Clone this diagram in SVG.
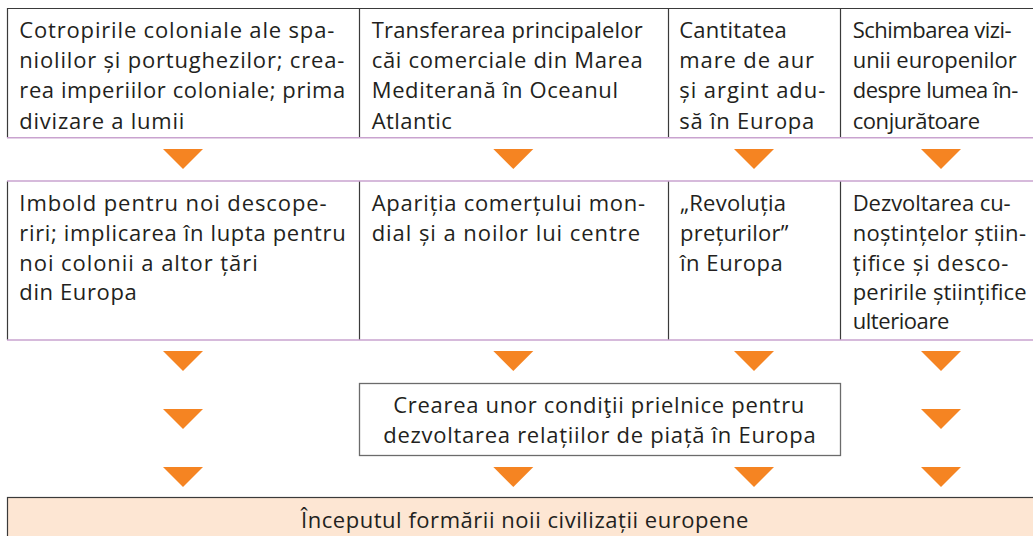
<svg xmlns="http://www.w3.org/2000/svg" xmlns:xlink="http://www.w3.org/1999/xlink" width="1033" height="536" viewBox="0 0 1033 536">
<style>
text{font-family:"Open Sans","Noto Sans","DejaVu Sans",sans-serif;font-size:22px;fill:#231f20}
.dark{stroke:#3a3a3a;stroke-width:1.2;fill:none}
.lav{stroke:#c9a3cf;stroke-width:1.5;fill:none}
.tri{fill:#f58422}
</style>
<defs>
<path id="tri" class="tri" d="M-20,0 L20,0 L0,20 Z"/>
</defs>
<rect width="1033" height="536" fill="#ffffff"/>

<g id="grid">
<line class="dark" x1="7.5" y1="8.5" x2="1033" y2="8.5"/>
<line class="dark" x1="7.5" y1="8" x2="7.5" y2="137.5"/>
<line class="dark" x1="359.5" y1="8" x2="359.5" y2="137.5"/>
<line class="dark" x1="668.5" y1="8" x2="668.5" y2="137.5"/>
<line class="dark" x1="840.5" y1="8" x2="840.5" y2="137.5"/>
<line class="lav" x1="7" y1="137.8" x2="1033" y2="137.8"/>
<line class="dark" x1="7.5" y1="181" x2="7.5" y2="340"/>
<line class="dark" x1="359.5" y1="181" x2="359.5" y2="340"/>
<line class="dark" x1="668.5" y1="181" x2="668.5" y2="340"/>
<line class="dark" x1="840.5" y1="181" x2="840.5" y2="340"/>
<line class="lav" x1="7" y1="181" x2="1033" y2="181"/>
<line class="lav" x1="7" y1="340" x2="1033" y2="340"/>
</g>

<g id="n1">
<text x="19.3" y="37.5" textLength="315" lengthAdjust="spacing">Cotropirile coloniale ale spa-</text>
<text x="19.3" y="68" textLength="325" lengthAdjust="spacing">niolilor și portughezilor; crea-</text>
<text x="19.3" y="98.3" textLength="326" lengthAdjust="spacing">rea imperiilor coloniale; prima</text>
<text x="19.3" y="128.5" textLength="165" lengthAdjust="spacing">divizare a lumii</text>
</g>
<g id="n2">
<text x="371.7" y="37.5" textLength="271" lengthAdjust="spacing">Transferarea principalelor</text>
<text x="371.7" y="68" textLength="271" lengthAdjust="spacing">căi comerciale din Marea</text>
<text x="371.7" y="98.3" textLength="246.3" lengthAdjust="spacing">Mediterană în Oceanul</text>
<text x="371.7" y="128.5" textLength="80" lengthAdjust="spacing">Atlantic</text>
</g>
<g id="n3">
<text x="679.3" y="37.5" textLength="107.4" lengthAdjust="spacing">Cantitatea</text>
<text x="679.3" y="68" textLength="134.7" lengthAdjust="spacing">mare de aur</text>
<text x="679.3" y="98.3" textLength="146" lengthAdjust="spacing">și argint adu-</text>
<text x="679.3" y="128.5" textLength="135" lengthAdjust="spacing">să în Europa</text>
</g>
<g id="n4">
<text x="852.7" y="37.5" textLength="159" lengthAdjust="spacing">Schimbarea vizi-</text>
<text x="852.7" y="68" textLength="164" lengthAdjust="spacing">unii europenilor</text>
<text x="852.7" y="98.3" textLength="165.6" lengthAdjust="spacing">despre lumea în-</text>
<text x="852.7" y="128.5" textLength="127.3" lengthAdjust="spacing">conjurătoare</text>
</g>

<g id="n5">
<text x="19.3" y="210.5" textLength="307.4" lengthAdjust="spacing">Imbold pentru noi descope-</text>
<text x="19.3" y="240.7" textLength="326.4" lengthAdjust="spacing">riri; implicarea în lupta pentru</text>
<text x="19.3" y="270.5" textLength="238.4" lengthAdjust="spacing">noi colonii a altor țări</text>
<text x="19.3" y="300" textLength="117.4" lengthAdjust="spacing">din Europa</text>
</g>
<g id="n6">
<text x="371.7" y="210.5" textLength="273.3" lengthAdjust="spacing">Apariția comerțului mon-</text>
<text x="371.7" y="240.7" textLength="268.3" lengthAdjust="spacing">dial și a noilor lui centre</text>
</g>
<g id="n7">
<text x="680" y="210.5" textLength="106" lengthAdjust="spacing">„Revoluția</text>
<text x="680" y="240.7" textLength="108.3" lengthAdjust="spacing">prețurilor”</text>
<text x="680" y="270.5" textLength="102.7" lengthAdjust="spacing">în Europa</text>
</g>
<g id="n8">
<text x="852.7" y="210.5" textLength="158" lengthAdjust="spacing">Dezvoltarea cu-</text>
<text x="852.7" y="240.7" textLength="173.3" lengthAdjust="spacing">noștințelor știin-</text>
<text x="852.7" y="270.5" textLength="155.6" lengthAdjust="spacing">țifice și desco-</text>
<text x="852.7" y="300" textLength="174" lengthAdjust="spacing">peririle științifice</text>
<text x="852.7" y="329" textLength="96.6" lengthAdjust="spacing">ulterioare</text>
</g>

<g id="n9">
<rect x="359.5" y="383.5" width="481" height="72" fill="#ffffff" stroke="#6b6b6b" stroke-width="1.3"/>
<text x="393.3" y="413.3" textLength="411" lengthAdjust="spacing">Crearea unor condiţii prielnice pentru</text>
<text x="383.3" y="442.7" textLength="432.4" lengthAdjust="spacing">dezvoltarea relațiilor de piață în Europa</text>
</g>

<g id="n10">
<rect x="7.5" y="497.5" width="1030" height="45" fill="#fde6d3" stroke="#3a3a3a" stroke-width="1.2"/>
<text x="301" y="528" textLength="447.3" lengthAdjust="spacing">Începutul formării noii civilizații europene</text>
</g>

<g id="connectors">
<use xlink:href="#tri" x="183" y="149"/>
<use xlink:href="#tri" x="513.3" y="149"/>
<use xlink:href="#tri" x="754" y="149"/>
<use xlink:href="#tri" x="941" y="149"/>
<use xlink:href="#tri" x="183" y="351"/>
<use xlink:href="#tri" x="513.3" y="351"/>
<use xlink:href="#tri" x="754" y="351"/>
<use xlink:href="#tri" x="941" y="351"/>
<use xlink:href="#tri" x="183" y="409"/>
<use xlink:href="#tri" x="941" y="409"/>
<use xlink:href="#tri" x="183" y="467"/>
<use xlink:href="#tri" x="513.3" y="467"/>
<use xlink:href="#tri" x="754" y="467"/>
<use xlink:href="#tri" x="941" y="467"/>
</g>
</svg>
